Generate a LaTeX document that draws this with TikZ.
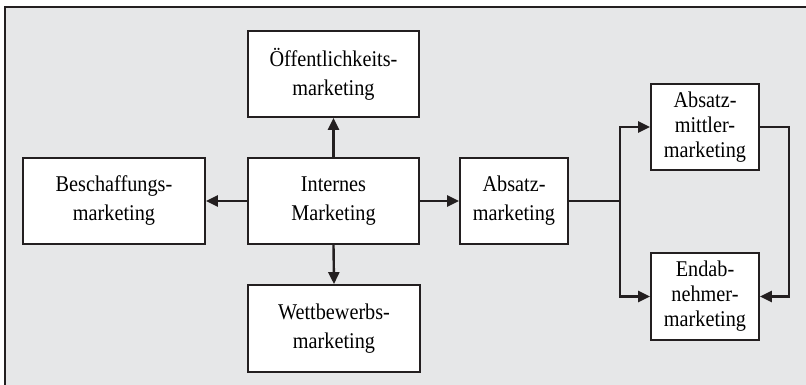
\documentclass[tikz,border=0pt]{standalone}
\usepackage{fontspec}
\setmainfont{Liberation Serif}[FakeStretch=0.9]
\usetikzlibrary{arrows.meta}
\definecolor{bggray}{HTML}{E6E7E8}
\definecolor{linec}{HTML}{231F20}
\begin{document}
\begin{tikzpicture}[x=1pt,y=-1pt,
  box/.style={draw=linec,line width=1.8pt,fill=white,inner sep=0pt,align=center,
    font=\fontsize{22.5}{29}\selectfont},
  box3/.style={box,font=\fontsize{22.5}{25}\selectfont},
  conn/.style={draw=linec,line width=2.4pt},
  arr/.style={conn,-{Triangle[length=12pt,width=11pt]}}]
\useasboundingbox (0,0) rectangle (806,385);
\fill[white] (0,0) rectangle (806,385);
\fill[bggray] (5,7) rectangle (806,385);
\draw[linec,line width=2pt] (5,385) -- (5,7) -- (806,7);
\node[box,minimum width=171pt,minimum height=86pt] (oef) at (333.5,74) {Öffentlichkeits-\\marketing};
\node[box,minimum width=171pt,minimum height=86pt] (int) at (333.5,201) {Internes\\Marketing};
\node[box,minimum width=182pt,minimum height=86pt] (bes) at (114,201) {Beschaffungs-\\marketing};
\node[box,minimum width=172pt,minimum height=87pt] (wet) at (334,328.5) {Wettbewerbs-\\marketing};
\node[box,minimum width=108pt,minimum height=86pt] (abs) at (514,201) {Absatz-\\marketing};
\node[box3,minimum width=108pt,minimum height=86pt] (amm) at (705,127) {Absatz-\\mittler-\\marketing};
\node[box3,minimum width=108pt,minimum height=87pt] (end) at (705,296.5) {Endab-\\nehmer-\\marketing};
\coordinate (split) at (620,201);
\coordinate (rgt) at (789,127);
\draw[arr] (int.north) -- (oef.south);
\draw[arr] (int.south) -- (wet.north);
\draw[arr] (int.west) -- (bes.east);
\draw[arr] (int.east) -- (abs.west);
\draw[conn] (abs.east) -- (split);
\draw[arr] (split) |- (amm.west);
\draw[arr] (split) |- (end.west);
\draw[arr] (amm.east) -- (rgt) |- (end.east);
\end{tikzpicture}
\end{document}
